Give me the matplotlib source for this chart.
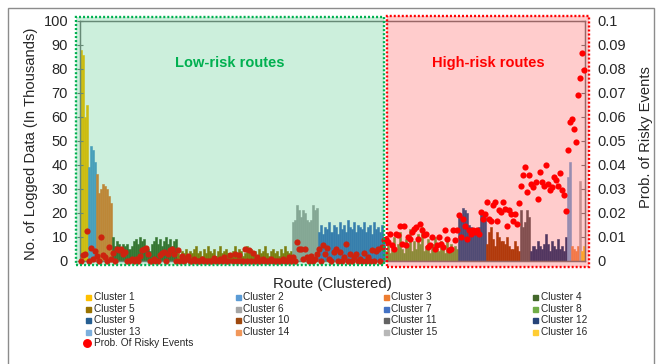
import matplotlib
matplotlib.use("Agg")
import matplotlib.pyplot as plt
import matplotlib.transforms as mtransforms
from matplotlib.patches import Rectangle
from matplotlib.lines import Line2D
import numpy as np

plt.rcParams['font.family'] = ['Liberation Sans', 'DejaVu Sans']

# ---- data: logged records (thousands) per route, grouped by cluster ----
logged_c1 = [88, 86, 60, 65]
logged_c2 = [39, 48, 46, 41]
logged_c3 = [36, 28, 30, 32, 31, 30, 27, 24]
logged_c4 = [10, 6, 8, 7, 5, 7, 6, 7, 5, 6, 8, 9, 7, 10, 8, 9, 6, 5, 4, 7,
             8, 10, 7, 9, 6, 8, 10, 7, 9, 6, 8, 9]
logged_c5 = [3, 2, 4, 3, 5, 2, 4, 3, 5, 6, 3, 4, 2, 5, 3, 6, 4, 3, 5, 2,
             4, 6, 3, 4, 5, 3, 2, 4, 6, 3, 5, 4, 2, 3, 6, 4, 5, 3, 4, 2,
             5, 3, 4, 6, 3, 2, 4, 5, 3, 4, 2, 5, 3, 6, 4, 3, 4]
logged_c6 = [16, 17, 23, 21, 18, 21, 20, 17, 16, 17, 23, 21, 22]
logged_c7 = [12, 15, 11, 14, 13, 16, 12, 15, 14, 11, 16, 13, 15, 12, 17, 14,
             13, 16, 12, 15, 14, 13, 16, 12, 14, 15, 11, 16, 13, 14, 12, 15, 10]
logged_c8 = [4, 8, 3, 6, 10, 4, 7, 12, 5, 3, 9, 6, 13, 4, 8, 5, 11, 7, 14, 4,
             6, 9, 3, 7, 10, 5, 4, 8, 6, 3, 9, 5, 7, 4, 6, 5]
logged_c9 = [19, 19, 22, 21, 20, 15, 14, 12, 13, 13, 14, 21, 20, 18]
logged_c10 = [7, 12, 14, 9, 6, 12, 10, 8, 8, 7, 10, 6, 5, 5, 8, 6, 4]
logged_c11 = [21, 14, 16, 21, 18]
logged_c12 = [4, 6, 5, 8, 6, 5, 7, 11, 7, 4, 8, 6, 5, 9, 5, 6, 4, 10]
logged_c13 = [35, 41]
logged_c14 = [6, 5, 4, 6]
logged_c15 = [33]
logged_c16 = [4, 6]

# ---- data: probability of risky events per route ----
prob_c1 = [0.0, 0.0025, 0.0028, 0.0124]
prob_c2 = [0.0, 0.0053, 0.0008, 0.0039]
prob_c3 = [0.0017, 0.0, 0.010, 0.0024, 0.0014, 0.0, 0.0056, 0.0008]
prob_c4 = [0.0032, 0.0, 0.0049, 0.0042, 0.0049, 0.0028, 0.0035, 0.0, 0.0, 0.0008,
           0.0, 0.0005, 0.0, 0.002, 0.0042, 0.0049, 0.0053, 0.0028, 0.0, 0.0,
           0.0008, 0.0, 0.0, 0.0024, 0.0032, 0.0035, 0.0, 0.0028, 0.0042, 0.0049,
           0.0028, 0.0]
prob_c5 = [0.0042, 0.0, 0.0017, 0.0, 0.0008, 0.002, 0.0, 0.0, 0.0005, 0.0,
           0.0, 0.0, 0.0008, 0.0, 0.0, 0.0, 0.0, 0.0, 0.001, 0.0,
           0.0, 0.0005, 0.0, 0.0014, 0.0, 0.0, 0.0025, 0.0, 0.0028, 0.0,
           0.0025, 0.0, 0.0, 0.0049, 0.0, 0.0045, 0.0, 0.0032, 0.0, 0.0014,
           0.0, 0.0, 0.0005, 0.0, 0.0, 0.0, 0.0008, 0.0, 0.0, 0.0,
           0.0, 0.0, 0.0005, 0.0, 0.0, 0.0014, 0.0]
prob_c6 = [0.0014, 0.0, 0.0077, 0.0049, 0.0049, 0.0008, 0.0049, 0.0014, 0.0,
           0.002, 0.0, 0.0005, 0.0028]
prob_c7 = [0.0049, 0.0, 0.0063, 0.0028, 0.0053, 0.0008, 0.0, 0.0035, 0.0049, 0.0,
           0.0035, 0.0, 0.0014, 0.007, 0.0, 0.0028, 0.0, 0.0014, 0.0028, 0.0,
           0.0008, 0.0, 0.0032, 0.0, 0.0014, 0.0, 0.0042, 0.0, 0.0039, 0.0049,
           0.0, 0.0056, 0.0084]
prob_c8 = [0.0091, 0.0077, 0.0112, 0.0063, 0.0049, 0.0112, 0.0105, 0.0146, 0.007,
           0.0146, 0.0063, 0.0098, 0.0091, 0.0119, 0.0133, 0.014, 0.0091, 0.0154,
           0.0126, 0.0105, 0.0112, 0.0056, 0.0063, 0.0098, 0.0049, 0.0063, 0.0098,
           0.007, 0.0056, 0.0126, 0.0091, 0.0042, 0.0049, 0.0126, 0.0084, 0.0126]
prob_c9 = [0.0188, 0.0098, 0.0174, 0.0146, 0.0091, 0.0126, 0.0112, 0.0126, 0.0119,
           0.0126, 0.0112, 0.0202, 0.0174, 0.0195]
prob_c10 = [0.0244, 0.0174, 0.0167, 0.023, 0.0244, 0.0167, 0.0209, 0.0202, 0.0244,
            0.0216, 0.0146, 0.0209, 0.0195, 0.0167, 0.0195, 0.0154, 0.024]
prob_c11 = [0.031, 0.0356, 0.039, 0.0286, 0.0356]
prob_c12 = [0.032, 0.0307, 0.0328, 0.0258, 0.037, 0.0328, 0.031, 0.0397, 0.032,
            0.0293, 0.0307, 0.0349, 0.0335, 0.031, 0.0365, 0.0293, 0.0272, 0.0206]
prob_c13 = [0.046, 0.058]
prob_c14 = [0.059, 0.055, 0.0495, 0.069]
prob_c15 = [0.076]
prob_c16 = [0.0865, 0.0795]

cluster_labels = [f"Cluster {i}" for i in range(1, 17)]
cluster_colors = ['#FFC000', '#5B9BD5', '#ED7D31', '#43682B', '#997300', '#A5A5A5',
                  '#4472C4', '#70AD47', '#255E91', '#9E480E', '#636363', '#264478',
                  '#7CAFDD', '#F1975A', '#B7B7B7', '#FFCD33']
low_risk_clusters = 7  # clusters 1-7 are low-risk, 8-16 high-risk

logged = [logged_c1, logged_c2, logged_c3, logged_c4, logged_c5, logged_c6, logged_c7,
          logged_c8, logged_c9, logged_c10, logged_c11, logged_c12, logged_c13,
          logged_c14, logged_c15, logged_c16]
probs = [prob_c1, prob_c2, prob_c3, prob_c4, prob_c5, prob_c6, prob_c7, prob_c8,
         prob_c9, prob_c10, prob_c11, prob_c12, prob_c13, prob_c14, prob_c15, prob_c16]

W, H = 662, 364
fig = plt.figure(figsize=(W / 100, H / 100), dpi=100)
fig.patch.set_facecolor('white')

def fx(px):
    return px / W

def fy(py):
    return 1 - py / H

ax = fig.add_axes([fx(80), fy(260.5), fx(585) - fx(80), fy(21) - fy(260.5)])
ax2 = ax.twinx()

text_col = '#262626'
spine_col = '#808080'

# bars and probability markers
start = 0
all_x, all_p = [], []
for vals, pr, col in zip(logged, probs, cluster_colors):
    x = np.arange(start, start + len(vals))
    ax.bar(x, vals, width=1.0, color=col, edgecolor=col, linewidth=0.4)
    all_x.extend(x)
    all_p.extend(pr)
    start += len(vals)
n_routes = start
split = sum(len(v) for v in logged[:low_risk_clusters]) - 0.5

ax2.scatter(all_x, all_p, s=20, color='#FF0000', linewidths=0, zorder=3, clip_on=False)

ax.set_xlim(-0.5, n_routes - 0.5)
ax.set_ylim(0, 100)
ax2.set_ylim(0, 0.1)
ax.set_xticks([])
ax.set_yticks(np.arange(0, 101, 10))
right_ticks = [0, 0.01, 0.02, 0.03, 0.04, 0.05, 0.06, 0.07, 0.08, 0.09, 0.1]
ax2.set_yticks(right_ticks)
ax2.set_yticklabels(['0' if t == 0 else f'{t:g}' for t in right_ticks])

ax.tick_params(axis='y', direction='inout', length=4, width=0.8, color=spine_col,
               labelsize=10.5, labelcolor=text_col, pad=6.6)
ax2.tick_params(axis='y', direction='in', length=3, width=0.8, color=spine_col,
                labelsize=10.5, labelcolor=text_col, pad=9)
for a in (ax, ax2):
    for s in a.spines.values():
        s.set_color(spine_col)
        s.set_linewidth(0.9)

ax.set_ylabel('No. of Logged Data (In Thousands)', fontsize=10.6, color=text_col)
ax.yaxis.set_label_coords((38 - 80) / 505, (260.5 - 144) / 239.5)
ax2.set_ylabel('Prob. of Risky Events', fontsize=10.6, color=text_col)
ax2.yaxis.set_label_coords((639 - 80) / 505, (260.5 - 137) / 239.5)
ax.set_xlabel('Route (Clustered)', fontsize=10.8, color=text_col, labelpad=12)

# translucent region overlays with dotted outlines
blend = mtransforms.blended_transform_factory(ax.transData, fig.transFigure)
px_per_route = 505 / n_routes
g_left = -0.5 - 4 / px_per_route
g_right = split - 1.5 / px_per_route
r_left = split + 1.7 / px_per_route
r_right = n_routes - 0.5 + 4 / px_per_route

green_box = Rectangle((g_left, fy(265)), g_right - g_left, fy(17.3) - fy(265),
                      transform=blend, facecolor=(0, 176 / 255, 80 / 255, 0.2),
                      edgecolor='#00B050', linewidth=1.7, linestyle=(0, (0.85, 0.85)),
                      zorder=5)
red_box = Rectangle((r_left, fy(266.5)), r_right - r_left, fy(16) - fy(266.5),
                    transform=blend, facecolor=(1, 0, 0, 0.2),
                    edgecolor='#FF0000', linewidth=1.7, linestyle=(0, (0.85, 0.85)),
                    zorder=5)
fig.add_artist(green_box)
fig.add_artist(red_box)

fig.text((g_left + g_right) / 2, fy(63), 'Low-risk routes', transform=blend,
         ha='center', va='center', fontsize=10.5, fontweight='bold',
         color='#00B050', zorder=6)
fig.text((r_left + r_right) / 2, fy(63), 'High-risk routes', transform=blend,
         ha='center', va='center', fontsize=10.5, fontweight='bold',
         color='#FF0000', zorder=6)

# legend laid out row by row beneath the plot
col_x = [88.3, 237.5, 385.5, 535]
row_y = [297, 308.6, 320.2, 331.8, 343.4]
for i, (lab, col) in enumerate(zip(cluster_labels, cluster_colors)):
    r, c = divmod(i, 4)
    fig.add_artist(Line2D([fx(col_x[c])], [fy(row_y[r])], marker='s', markersize=3.6,
                          color=col, linestyle='none', transform=fig.transFigure))
    fig.text(fx(col_x[c] + 5.8), fy(row_y[r]), lab, ha='left', va='center',
             fontsize=7.3, color=text_col)
fig.add_artist(Line2D([fx(87)], [fy(row_y[4])], marker='o', markersize=5.4,
                      color='#FF0000', linestyle='none', transform=fig.transFigure))
fig.text(fx(col_x[0] + 5.8), fy(row_y[4]), 'Prob. Of Risky Events', ha='left',
         va='center', fontsize=7.3, color=text_col)

# outer frame
fig.add_artist(Rectangle((fx(8), -0.05), fx(654) - fx(8), fy(8) + 0.05,
                         transform=fig.transFigure, fill=False,
                         edgecolor='#8c8c8c', linewidth=1.0))

fig.savefig('out.png', dpi=100)
